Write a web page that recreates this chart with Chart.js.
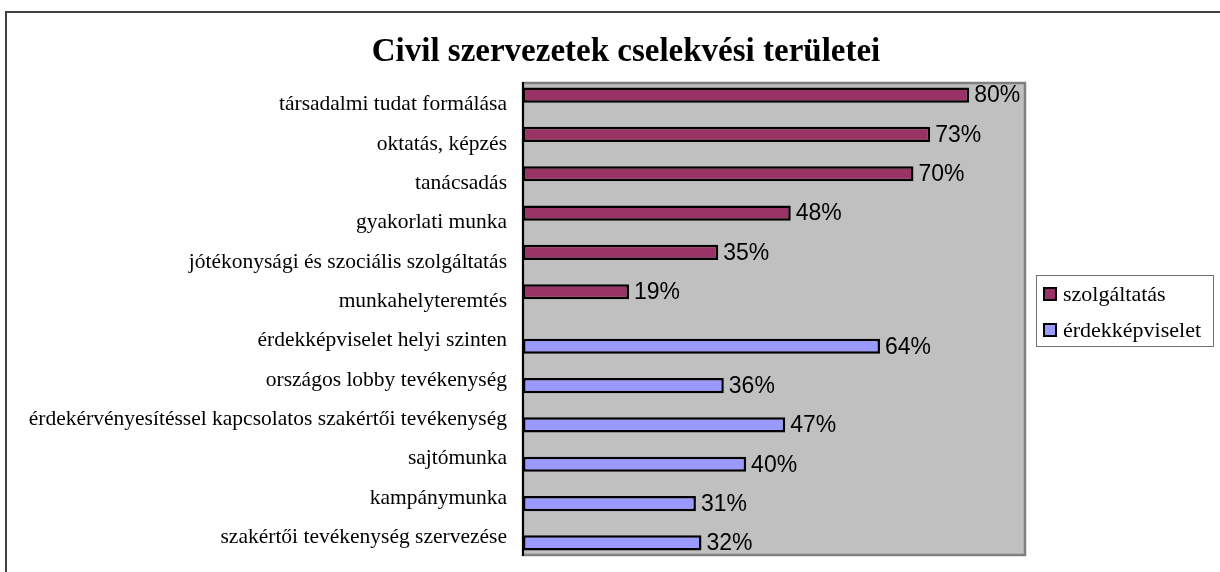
<!DOCTYPE html>
<html>
<head>
<meta charset="utf-8">
<script src="https://cdn.jsdelivr.net/npm/chart.js"></script>
<style>
html,body{margin:0;padding:0;background:#fff;}
canvas{display:block;}
</style>
</head>
<body>
<canvas id="c" width="1220" height="572"></canvas>
<script>
const titleText = "Civil szervezetek cselekvési területei";
const categories = [
  "társadalmi tudat formálása",
  "oktatás, képzés",
  "tanácsadás",
  "gyakorlati munka",
  "jótékonysági és szociális szolgáltatás",
  "munkahelyteremtés",
  "érdekképviselet helyi szinten",
  "országos lobby tevékenység",
  "érdekérvényesítéssel kapcsolatos szakértői tevékenység",
  "sajtómunka",
  "kampánymunka",
  "szakértői tevékenység szervezése"
];
const seriesNames = ["szolgáltatás", "érdekképviselet"];
const szolgaltatas = [80, 73, 70, 48, 35, 19, null, null, null, null, null, null];
const erdekkepviselet = [null, null, null, null, null, null, 64, 36, 47, 40, 31, 32];
const xMin = 0, xMax = 90;

const SERIF = '"Liberation Serif", "Times New Roman", serif';
const SANS = '"Liberation Sans", Arial, sans-serif';

const decorPlugin = {
  id: 'decor',
  beforeDraw(chart) {
    const ctx = chart.ctx, a = chart.chartArea;
    ctx.save();
    ctx.fillStyle = '#fff';
    ctx.fillRect(0, 0, chart.width, chart.height);
    ctx.strokeStyle = '#404040';
    ctx.lineWidth = 2;
    ctx.beginPath();
    ctx.moveTo(6, chart.height + 2);
    ctx.lineTo(6, 12);
    ctx.lineTo(chart.width + 2, 12);
    ctx.stroke();
    ctx.fillStyle = '#c0c0c0';
    ctx.fillRect(a.left, a.top, a.right - a.left, a.bottom - a.top);
    ctx.strokeStyle = '#808080';
    ctx.lineWidth = 2.5;
    ctx.strokeRect(a.left, a.top, a.right - a.left, a.bottom - a.top);
    ctx.restore();
  },
  afterDraw(chart) {
    const ctx = chart.ctx;
    ctx.save();
    ctx.fillStyle = '#000';
    ctx.font = 'bold 33px ' + SERIF;
    ctx.textAlign = 'center';
    ctx.textBaseline = 'middle';
    ctx.fillText(titleText, 626, 52);
    const lx = 1036, ly = 275, lw = 177, lh = 71;
    ctx.fillStyle = '#fff';
    ctx.fillRect(lx, ly, lw, lh);
    ctx.strokeStyle = '#707070';
    ctx.lineWidth = 1;
    ctx.strokeRect(lx + 0.5, ly + 0.5, lw, lh);
    chart.data.datasets.forEach((ds, i) => {
      const sy = 287 + i * 36;
      ctx.fillStyle = ds.backgroundColor;
      ctx.fillRect(1043, sy, 14, 14);
      ctx.strokeStyle = '#000';
      ctx.lineWidth = 2;
      ctx.strokeRect(1044, sy + 1, 12, 12);
      ctx.fillStyle = '#000';
      ctx.font = '22px ' + SERIF;
      ctx.textAlign = 'left';
      ctx.textBaseline = 'middle';
      ctx.fillText(ds.label, 1063, sy + 8);
    });
    ctx.restore();
  },
  afterDatasetsDraw(chart) {
    const ctx = chart.ctx;
    ctx.save();
    ctx.fillStyle = '#000';
    ctx.font = '23px ' + SANS;
    ctx.textAlign = 'left';
    ctx.textBaseline = 'middle';
    chart.data.datasets.forEach((ds, i) => {
      const meta = chart.getDatasetMeta(i);
      meta.data.forEach((el, j) => {
        const v = ds.data[j];
        if (v === null || v === undefined) return;
        ctx.fillText(v + '%', el.x + 5, el.y + 1);
      });
    });
    ctx.restore();
  }
};

new Chart(document.getElementById('c'), {
  type: 'bar',
  data: {
    labels: categories,
    datasets: [
      { label: seriesNames[0], data: szolgaltatas, backgroundColor: '#993366', borderColor: '#000', borderWidth: 2.5, borderSkipped: false, categoryPercentage: 0.77, barPercentage: 1.0 },
      { label: seriesNames[1], data: erdekkepviselet, backgroundColor: '#9999ff', borderColor: '#000', borderWidth: 2.5, borderSkipped: false, categoryPercentage: 0.77, barPercentage: 1.0 }
    ]
  },
  options: {
    indexAxis: 'y',
    responsive: false,
    animation: false,
    devicePixelRatio: 1,
    layout: { padding: { left: 0, right: 195, top: 83, bottom: 17 } },
    plugins: {
      legend: { display: false },
      title: { display: false },
      tooltip: { enabled: false }
    },
    scales: {
      x: { min: xMin, max: xMax, display: false },
      y: {
        grid: { display: false, drawTicks: false },
        border: { display: true, color: '#000', width: 2 },
        ticks: { color: '#000', font: { family: SERIF, size: 21.5 }, padding: 16, labelOffset: 2 },
        afterFit(scale) { scale.width = 523; scale.paddingTop = 0; scale.paddingBottom = 0; }
      }
    }
  },
  plugins: [decorPlugin]
});
</script>
</body>
</html>
